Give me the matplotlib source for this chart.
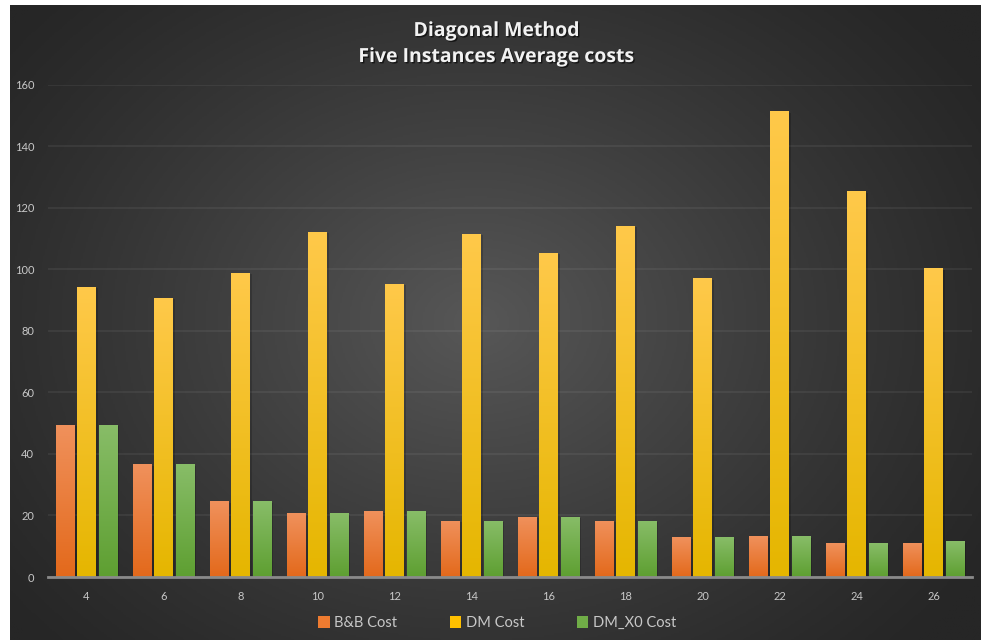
import numpy as np
import matplotlib.pyplot as plt
import matplotlib.patheffects as pe
from matplotlib.colors import LinearSegmentedColormap

sizes = ["4", "6", "8", "10", "12", "14", "16", "18", "20", "22", "24", "26"]
bb_cost = [49.5, 36.6, 24.6, 20.7, 21.4, 18.2, 19.5, 18.2, 12.9, 13.2, 10.9, 11.2]
dm_cost = [94.2, 90.7, 98.8, 112.2, 95.3, 111.5, 105.3, 114.1, 97.1, 151.3, 125.3, 100.3]
dm_x0_cost = [49.5, 36.6, 24.6, 20.7, 21.4, 18.2, 19.5, 18.2, 12.9, 13.2, 10.9, 11.6]

series = [
    ("B&B Cost", bb_cost, "#F0915C", "#E3691B", "#EE7B30"),
    ("DM Cost", dm_cost, "#FFC94A", "#E5B600", "#FFC000"),
    ("DM_X0 Cost", dm_x0_cost, "#88BD68", "#5E9F31", "#70AD47"),
]

W, H = 981, 640
fig = plt.figure(figsize=(W / 100, H / 100), dpi=100)
fig.patch.set_facecolor("white")

# dark radial background panel
bg = fig.add_axes([10 / W, 0, (W - 10) / W, (H - 5) / H])
bg.set_axis_off()
yy, xx = np.mgrid[0:1:400j, 0:1:600j]
r = np.sqrt(((xx - 0.48) / 0.62) ** 2 + ((yy - 0.50) / 0.75) ** 2)
shade = np.clip(1 - r, 0, 1) ** 1.2
bg_cmap = LinearSegmentedColormap.from_list("bg", ["#262626", "#575757"])
bg.imshow(shade, cmap=bg_cmap, aspect="auto", extent=[0, 1, 0, 1], origin="lower")
bg.set_xlim(0, 1)
bg.set_ylim(0, 1)

ax = fig.add_axes([48 / W, 63 / H, (972 - 48) / W, (577 - 84.5) / H])
ax.patch.set_alpha(0)

x = np.arange(len(sizes))
width = 0.234
offsets = [-0.273, 0, 0.273]

grad = np.linspace(0, 1, 256).reshape(-1, 1)
for (name, vals, top, bottom, solid), off in zip(series, offsets):
    cmap = LinearSegmentedColormap.from_list(name, [bottom, top])
    bars = ax.bar(x + off, vals, width, color=solid, label=name, zorder=3, linewidth=0,
                  path_effects=[pe.SimplePatchShadow(offset=(1.5, -1), shadow_rgbFace="black", alpha=0.18),
                                pe.Normal()])
    for b in bars:
        bx, by = b.get_x(), b.get_height()
        im = ax.imshow(grad, cmap=cmap, aspect="auto", origin="lower",
                       extent=[bx, bx + b.get_width(), 0, by], zorder=4)
        im.set_clip_path(b)

ax.set_xlim(-0.5, len(sizes) - 0.5)
ax.set_ylim(0, 160)

ax.set_yticks(range(0, 161, 20))
ax.yaxis.grid(True, color="white", alpha=0.07, linewidth=1.2, zorder=0)
ax.set_axisbelow(True)
for s in ["top", "right", "left"]:
    ax.spines[s].set_visible(False)
ax.spines["bottom"].set_color("#8a8a8a")
ax.spines["bottom"].set_linewidth(2)
ax.spines["bottom"].set_zorder(5)

ax.set_xticks(x)
ax.set_xticklabels(sizes)
ax.tick_params(axis="both", length=0, colors="#c8c8c8", labelsize=8)
ax.tick_params(axis="x", pad=10)
ax.tick_params(axis="y", pad=10)
for lbl in ax.get_xticklabels() + ax.get_yticklabels():
    lbl.set_family("Lato")

title_fx = [pe.withSimplePatchShadow(offset=(1, -1), shadow_rgbFace="black", alpha=0.6)]
fig.text(497 / W, 1 - 31 / H, "Diagonal Method", ha="center", va="center", color="#f2f2f2",
         fontsize=14, fontweight="bold", family="Open Sans", path_effects=title_fx)
fig.text(497 / W, 1 - 57 / H, "Five Instances Average costs", ha="center", va="center",
         color="#f2f2f2", fontsize=14, fontweight="bold", family="Open Sans", path_effects=title_fx)

leg = fig.legend(loc="center", bbox_to_anchor=(497 / W, 1 - 623 / H), ncol=3, frameon=False,
                 handlelength=0.8, handleheight=0.8, handletextpad=0.3, columnspacing=3.6,
                 prop={"family": "Lato", "size": 10.5})
for t in leg.get_texts():
    t.set_color("#c8c8c8")
for h, (_, _, _, _, solid) in zip(leg.legend_handles, series):
    h.set_path_effects([])
    h.set_color(solid)

fig.savefig("out.png", dpi=100)
